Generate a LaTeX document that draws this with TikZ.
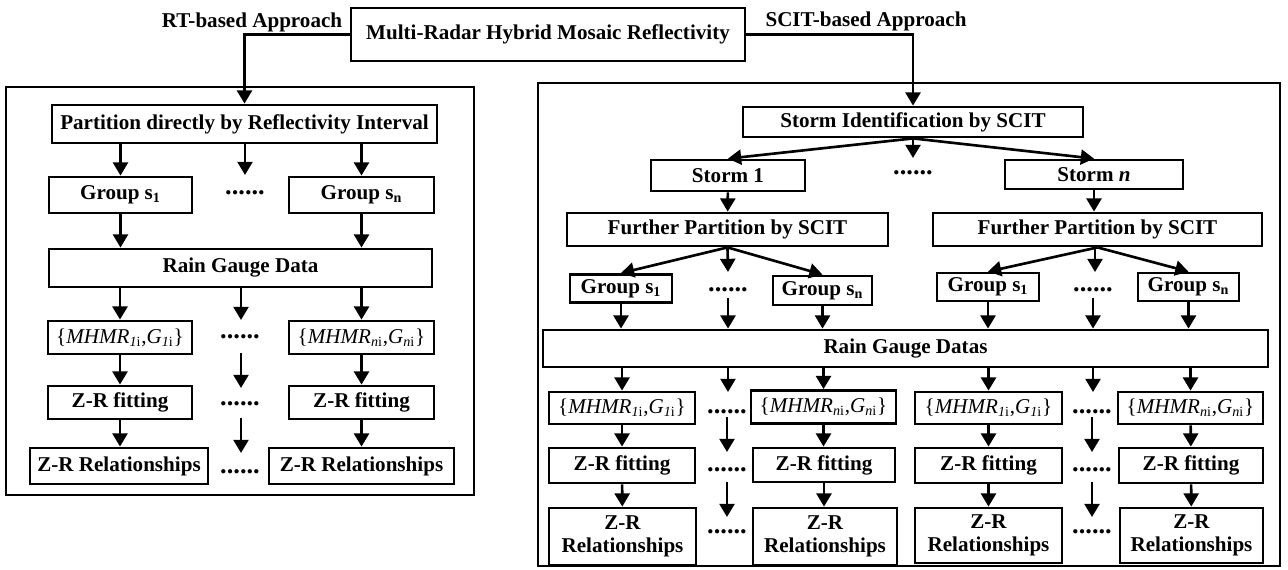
\documentclass[tikz,border=0pt]{standalone}
\usepackage{fontspec}
\setmainfont{Liberation Serif}
\usetikzlibrary{arrows.meta}
\tikzset{
  box/.style={draw, line width=1.6pt, inner sep=0pt, align=center, font=\fontsize{12}{13}\selectfont\bfseries},
  sz/.style 2 args={minimum width=#1*0.02cm, minimum height=#2*0.02cm},
  lbl/.style={inner sep=0pt, font=\fontsize{12}{13}\selectfont\bfseries},
  dots/.style={inner sep=0pt, font=\fontsize{15}{16}\selectfont\bfseries},
  arr/.style={line width=1.5pt, -{Triangle[length=7.5pt,width=8.5pt]}},
  frame/.style={line width=1.6pt},
}
\begin{document}
\begin{tikzpicture}[x=0.02cm,y=-0.02cm]
\useasboundingbox (0,0) rectangle (1288,569);
% source box and the two approaches
\node[box,sz={394}{53}] (top) at (548,34.5) {Multi-Radar Hybrid Mosaic Reflectivity};
\node[lbl,anchor=base] (rtlbl) at (252,27) {RT-based Approach};
\node[lbl,anchor=base] (scitlbl) at (866,26.5) {SCIT-based Approach};

% RT-based approach
\draw[frame] (6,87) rectangle (474,495);
\node[box,sz={385}{38}] (part) at (244.5,124) {Partition directly by Reflectivity Interval};
\node[box,sz={143}{36}] (ls1) at (120.5,195) {Group s\textsubscript{1}};
\node[box,sz={145}{36}] (lsn) at (361.5,195) {Group s\textsubscript{n}};
\node[box,sz={383}{38}] (lrain) at (240.5,268) {Rain Gauge Data};
\node[box,sz={144}{33}] (lm1) at (120,337.5) {{\mdseries\{\textit{MHMR}\textsubscript{\textit{1}i},\textit{G}\textsubscript{\textit{1}i}\}}};
\node[box,sz={145}{33}] (lmn) at (361.5,337.5) {{\mdseries\{\textit{MHMR}\textsubscript{\textit{n}i},\textit{G}\textsubscript{\textit{n}i}\}}};
\node[box,sz={144}{33}] (lf1) at (120,402.5) {Z-R fitting};
\node[box,sz={145}{33}] (lfn) at (361.5,402.5) {Z-R fitting};
\node[box,sz={178}{36}] (lr1) at (119,466) {Z-R Relationships};
\node[box,sz={185}{36}] (lrn) at (361.5,466) {Z-R Relationships};
\node[dots] (ld1) at (245,193) {......};
\node[dots] (ld2) at (240,337) {......};
\node[dots] (ld3) at (240,404) {......};
\node[dots] (ld4) at (240,472) {......};
\coordinate (la1) at (245,175);
\coordinate (la2) at (241,320);
\coordinate (la3) at (241,353);
\coordinate (lb3) at (241,388);
\coordinate (la4) at (241,418);
\coordinate (lb4) at (241,453);
\draw[arr] (top.west) -| (part.north);
\draw[arr] (part.south -| ls1.north) -- (ls1.north);
\draw[arr] (part.south -| lsn.north) -- (lsn.north);
\draw[arr] (part.south -| la1) -- (la1);
\draw[arr] (ls1.south) -- (ls1.south |- lrain.north);
\draw[arr] (lsn.south) -- (lsn.south |- lrain.north);
\draw[arr] (lrain.south -| lm1.north) -- (lm1.north);
\draw[arr] (lrain.south -| lmn.north) -- (lmn.north);
\draw[arr] (lrain.south -| la2) -- (la2);
\draw[arr] (lm1) -- (lf1);
\draw[arr] (lmn) -- (lfn);
\draw[arr] (lf1.south) -- (lf1.south |- lr1.north);
\draw[arr] (lfn) -- (lrn);
\draw[arr] (la3) -- (lb3);
\draw[arr] (la4) -- (lb4);

% SCIT-based approach
\draw[frame] (538,83) rectangle (1280,566);
\node[box,sz={340}{30}] (sid) at (913,122) {Storm Identification by SCIT};
\node[box,sz={154}{31}] (st1) at (728,175.5) {Storm 1};
\node[box,sz={178}{29}] (stn) at (1094,174.5) {Storm \textit{n}};
\node[box,sz={321}{33}] (fp1) at (727.5,229.5) {Further Partition by SCIT};
\node[box,sz={329}{33}] (fpn) at (1097.5,229.5) {Further Partition by SCIT};
\node[box,sz={102}{28}] (g11) at (621,288.5) {Group s\textsubscript{1}};
\node[box,sz={99}{29}] (g1n) at (822.5,290.5) {Group s\textsubscript{n}};
\node[box,sz={102}{28}] (gn1) at (988,287) {Group s\textsubscript{1}};
\node[box,sz={101}{28}] (gnn) at (1188.5,287) {Group s\textsubscript{n}};
\node[box,sz={725}{37}] (rain2) at (905.5,348.5) {Rain Gauge Datas};
\node[box,sz={146}{32}] (m11) at (622,408) {{\mdseries\{\textit{MHMR}\textsubscript{\textit{1}i},\textit{G}\textsubscript{\textit{1}i}\}}};
\node[box,sz={145}{33}] (m1n) at (823.5,407) {{\mdseries\{\textit{MHMR}\textsubscript{\textit{n}i},\textit{G}\textsubscript{\textit{n}i}\}}};
\node[box,sz={147}{32}] (mn1) at (988.5,408) {{\mdseries\{\textit{MHMR}\textsubscript{\textit{1}i},\textit{G}\textsubscript{\textit{1}i}\}}};
\node[box,sz={145}{32}] (mnn) at (1190.5,408) {{\mdseries\{\textit{MHMR}\textsubscript{\textit{n}i},\textit{G}\textsubscript{\textit{n}i}\}}};
\node[box,sz={146}{35}] (f11) at (622,465.5) {Z-R fitting};
\node[box,sz={142}{34}] (f1n) at (824,465) {Z-R fitting};
\node[box,sz={147}{35}] (fn1) at (988.5,465.5) {Z-R fitting};
\node[box,sz={144}{35}] (fnn) at (1191,465.5) {Z-R fitting};
\node[box,sz={147}{57}] (r11) at (622.5,536.5) {Z-R\\Relationships};
\node[box,sz={144}{57}] (r1n) at (825,536.5) {Z-R\\Relationships};
\node[box,sz={147}{55}] (rn1) at (988.5,535.5) {Z-R\\Relationships};
\node[box,sz={143}{55}] (rnn) at (1191.5,535.5) {Z-R\\Relationships};
\node[dots] (rd0) at (913,173) {......};
\node[dots] (rd1) at (728,290) {......};
\node[dots] (rd2) at (1093,290) {......};
\node[dots] (rd3) at (727,412) {......};
\node[dots] (rd4) at (1092,412) {......};
\node[dots] (rd5) at (727,470) {......};
\node[dots] (rd6) at (1092,470) {......};
\node[dots] (rd7) at (727,532) {......};
\node[dots] (rd8) at (1092,532) {......};
\coordinate (ra0) at (913,158);
\coordinate (ra1) at (728,272);
\coordinate (ra2) at (1095,272);
\coordinate (ra3) at (728,298);
\coordinate (ra4) at (1093,298);
\coordinate (ra5) at (728,392);
\coordinate (ra6) at (1093,392);
\coordinate (ra7) at (727,417);
\coordinate (rb7) at (727,452);
\coordinate (ra8) at (1092,417);
\coordinate (rb8) at (1092,452);
\coordinate (ra9) at (727,482);
\coordinate (rb9) at (727,517);
\coordinate (ra10) at (1092,482);
\coordinate (rb10) at (1092,517);
\draw[arr] (top.east) -| (sid.north);
\draw[arr] (sid.south) -- (st1.north);
\draw[arr] (sid.south) -- (stn.north);
\draw[arr] (sid.south) -- (ra0);
\draw[arr] (st1) -- (fp1);
\draw[arr] (stn.south) -- (stn.south |- fpn.north);
\draw[arr] (fp1.south) -- (g11.north);
\draw[arr] (fp1.south) -- (g1n.north);
\draw[arr] (fp1.south) -- (ra1);
\draw[arr] (fpn.south) -- (gn1.north);
\draw[arr] (fpn.south) -- (gnn.north);
\draw[arr] (fpn.south -| ra2) -- (ra2);
\draw[arr] (g11.south) -- (g11.south |- rain2.north);
\draw[arr] (g1n.south) -- (g1n.south |- rain2.north);
\draw[arr] (gn1.south) -- (gn1.south |- rain2.north);
\draw[arr] (gnn.south) -- (gnn.south |- rain2.north);
\draw[arr] (ra3) -- (ra3 |- rain2.north);
\draw[arr] (ra4) -- (ra4 |- rain2.north);
\draw[arr] (rain2.south -| m11.north) -- (m11.north);
\draw[arr] (rain2.south -| m1n.north) -- (m1n.north);
\draw[arr] (rain2.south -| mn1.north) -- (mn1.north);
\draw[arr] (rain2.south -| mnn.north) -- (mnn.north);
\draw[arr] (rain2.south -| ra5) -- (ra5);
\draw[arr] (rain2.south -| ra6) -- (ra6);
\draw[arr] (m11) -- (f11);
\draw[arr] (m1n.south) -- (m1n.south |- f1n.north);
\draw[arr] (mn1) -- (fn1);
\draw[arr] (mnn) -- (fnn);
\draw[arr] (f11) -- (r11);
\draw[arr] (f1n.south) -- (f1n.south |- r1n.north);
\draw[arr] (fn1) -- (rn1);
\draw[arr] (fnn) -- (rnn);
\draw[arr] (ra7) -- (rb7);
\draw[arr] (ra8) -- (rb8);
\draw[arr] (ra9) -- (rb9);
\draw[arr] (ra10) -- (rb10);
\end{tikzpicture}
\end{document}
